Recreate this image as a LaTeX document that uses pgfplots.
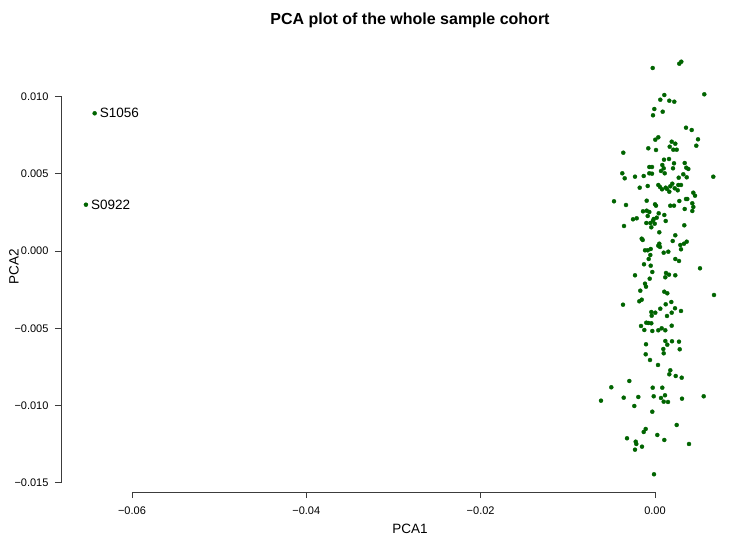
\documentclass[border=0pt]{standalone}
\usepackage{fontspec}
\setmainfont{Liberation Sans}
\usepackage{pgfplots}
\usepackage{pgfplotstable}
\pgfplotsset{compat=1.18}
\definecolor{dg}{HTML}{006400}
\definecolor{axgray}{HTML}{3C3C3C}
\pgfplotstableread{
x y
-0.000264 0.011844
0.002788 0.012122
0.003017 0.012252
0.001067 0.010096
0.000608 0.009792
0.001641 0.009727
0.002214 0.009663
0.005656 0.010142
-0.000080 0.009190
0.000883 0.009015
-0.000229 0.008783
0.003556 0.007980
0.004210 0.007831
0.000379 0.007359
0.000034 0.007203
0.004933 0.007229
0.001916 0.007074
0.002329 0.006945
0.004738 0.006815
0.001686 0.006750
-0.000769 0.006647
0.000115 0.006537
0.002099 0.006556
0.002489 0.006556
-0.003637 0.006362
0.001032 0.005909
0.001606 0.005954
0.002180 0.005676
0.003407 0.005695
0.000837 0.005566
-0.000654 0.005436
-0.000344 0.005436
0.000998 0.005352
0.002065 0.005352
0.003591 0.005391
0.003820 0.005307
0.000688 0.005178
-0.000654 0.005029
-0.000344 0.005003
0.001113 0.005029
-0.003751 0.005029
-0.003476 0.004705
-0.002294 0.004809
-0.001296 0.004854
0.003247 0.004964
0.002719 0.004744
0.003637 0.004770
0.006688 0.004809
-0.000837 0.004207
-0.001755 0.004097
0.000379 0.004272
0.000574 0.004142
0.000803 0.003993
0.001227 0.004097
0.001377 0.004013
0.001755 0.004187
0.001985 0.004356
0.002260 0.004058
0.002604 0.003929
0.002673 0.004272
0.002983 0.004272
0.001641 0.003838
0.004394 0.003773
0.004589 0.003579
-0.004703 0.003217
-0.003327 0.002977
-0.000952 0.003255
0.000000 0.003022
0.000115 0.002932
0.002788 0.003236
0.003556 0.003365
0.003705 0.003365
0.004279 0.003087
0.004394 0.002848
0.001755 0.002932
0.002180 0.002932
0.003407 0.002718
0.004279 0.002589
-0.001377 0.002569
-0.000952 0.002608
-0.000654 0.002524
0.000424 0.002440
0.001067 0.002330
-0.000837 0.002265
-0.002524 0.002052
-0.002099 0.002116
-0.000149 0.002071
0.000195 0.002155
0.001227 0.001942
-0.000998 0.001812
-0.000539 0.001812
-0.000034 0.001767
-0.000229 0.001961
-0.003556 0.001618
-0.000424 0.001534
0.003361 0.001663
0.000493 0.001210
-0.001526 0.000796
-0.001411 0.000712
0.002329 0.001016
0.002031 0.000647
0.000493 0.000472
0.000574 0.000259
0.000379 0.000343
0.002902 0.000388
0.003327 0.000472
0.003637 0.000602
0.002983 0.000110
-0.001147 0.000045
-0.000837 0.000045
-0.000493 0.000129
-0.000539 -0.000259
0.000998 -0.000110
0.001526 -0.000045
-0.000723 -0.000518
0.002329 -0.000518
0.002753 -0.000647
-0.001262 -0.000861
-0.000493 -0.000951
0.005162 -0.001120
-0.000310 -0.001359
0.001262 -0.001424
0.001606 -0.001534
0.002329 -0.001573
0.001182 -0.001702
-0.002294 -0.001573
-0.000608 -0.001793
-0.001147 -0.002116
-0.001032 -0.002311
-0.001686 -0.002569
0.001067 -0.002634
0.001411 -0.002738
0.006768 -0.002848
-0.001526 -0.003152
-0.001801 -0.003255
-0.003671 -0.003476
0.001870 -0.003301
0.001227 -0.003450
0.000608 -0.003734
0.002294 -0.003708
0.002983 -0.003883
-0.000424 -0.003948
0.000034 -0.003993
-0.000379 -0.004187
0.001916 -0.003993
0.001377 -0.004207
-0.000998 -0.004640
-0.000769 -0.004660
-0.000424 -0.004679
-0.001606 -0.004854
0.001916 -0.004835
-0.001227 -0.005113
-0.000310 -0.005178
0.000379 -0.005132
0.000769 -0.005003
0.001182 -0.005132
0.001182 -0.005825
0.001950 -0.005844
0.002753 -0.005870
0.001411 -0.006064
-0.001032 -0.006038
0.000952 -0.006343
0.002834 -0.006362
0.000998 -0.006621
-0.001067 -0.006686
-0.000574 -0.007055
0.000344 -0.007378
0.001755 -0.007721
0.001641 -0.007980
0.002375 -0.008090
0.003063 -0.008200
-0.002948 -0.008414
-0.005013 -0.008821
-0.000264 -0.008847
0.000837 -0.008847
0.001147 -0.009339
0.000688 -0.009514
-0.003591 -0.009494
-0.001916 -0.009449
-0.000149 -0.009404
0.003097 -0.009559
0.005587 -0.009404
0.000998 -0.009753
0.001491 -0.009773
-0.002375 -0.010032
-0.006195 -0.009688
-0.000310 -0.010401
0.002489 -0.011261
-0.001067 -0.011520
-0.001296 -0.011714
0.000264 -0.011908
-0.003212 -0.012122
0.001067 -0.012232
-0.002214 -0.012342
-0.002145 -0.012491
-0.001491 -0.012666
0.003900 -0.012491
-0.002294 -0.012860
-0.000115 -0.014452
-0.06428 0.008913
-0.06528 0.002997
}\pcadata
\begin{document}
\begin{tikzpicture}[x=1pt,y=1pt]
\useasboundingbox (0,0) rectangle (731,538);
\begin{axis}[
  at={(61pt,46pt)}, anchor=south west,
  scale only axis, width=664pt, height=447pt,
  xmin=-0.06814, xmax=0.00803, ymin=-0.015599, ymax=0.013333,
  axis lines*=left, axis line style={draw=none},
  tick align=outside, major tick length=6pt,
  xtick={-0.06,-0.04,-0.02,0}, xticklabels={−0.06,−0.04,−0.02,0.00},
  ytick={-0.015,-0.01,-0.005,0,0.005,0.01},
  yticklabels={−0.015,−0.010,−0.005,0.000,0.005,0.010},
  tick label style={font=\fontsize{11}{13}\selectfont, text=black},
  xticklabel style={yshift=-5pt},
  yticklabel style={xshift=-3pt},
  every tick/.style={axgray, line width=0.8pt},
  scaled ticks=false, clip=false,
]
\addplot[only marks, mark=*, mark size=2pt, color=dg, mark options={draw=dg, fill=dg}] table[x=x, y=y] {\pcadata};
\draw[axgray, line width=0.8pt] (axis cs:-0.06,-0.015599) -- (axis cs:0,-0.015599);
\draw[axgray, line width=0.8pt] (axis cs:-0.06814,-0.015) -- (axis cs:-0.06814,0.010);
\node[anchor=west, font=\fontsize{13.5}{16}\selectfont, inner sep=0pt, xshift=5pt] at (axis cs:-0.06428,0.008913) {S1056};
\node[anchor=west, font=\fontsize{13.5}{16}\selectfont, inner sep=0pt, xshift=5pt] at (axis cs:-0.06528,0.002997) {S0922};
\end{axis}
\node[font=\bfseries\fontsize{16}{19}\selectfont] at (410,518) {PCA plot of the whole sample cohort};
\node[font=\fontsize{13.5}{16}\selectfont, inner sep=0pt] at (410,9) {PCA1};
\node[font=\fontsize{13.5}{16}\selectfont, rotate=90, inner sep=0pt] at (14,271) {PCA2};
\end{tikzpicture}
\end{document}
